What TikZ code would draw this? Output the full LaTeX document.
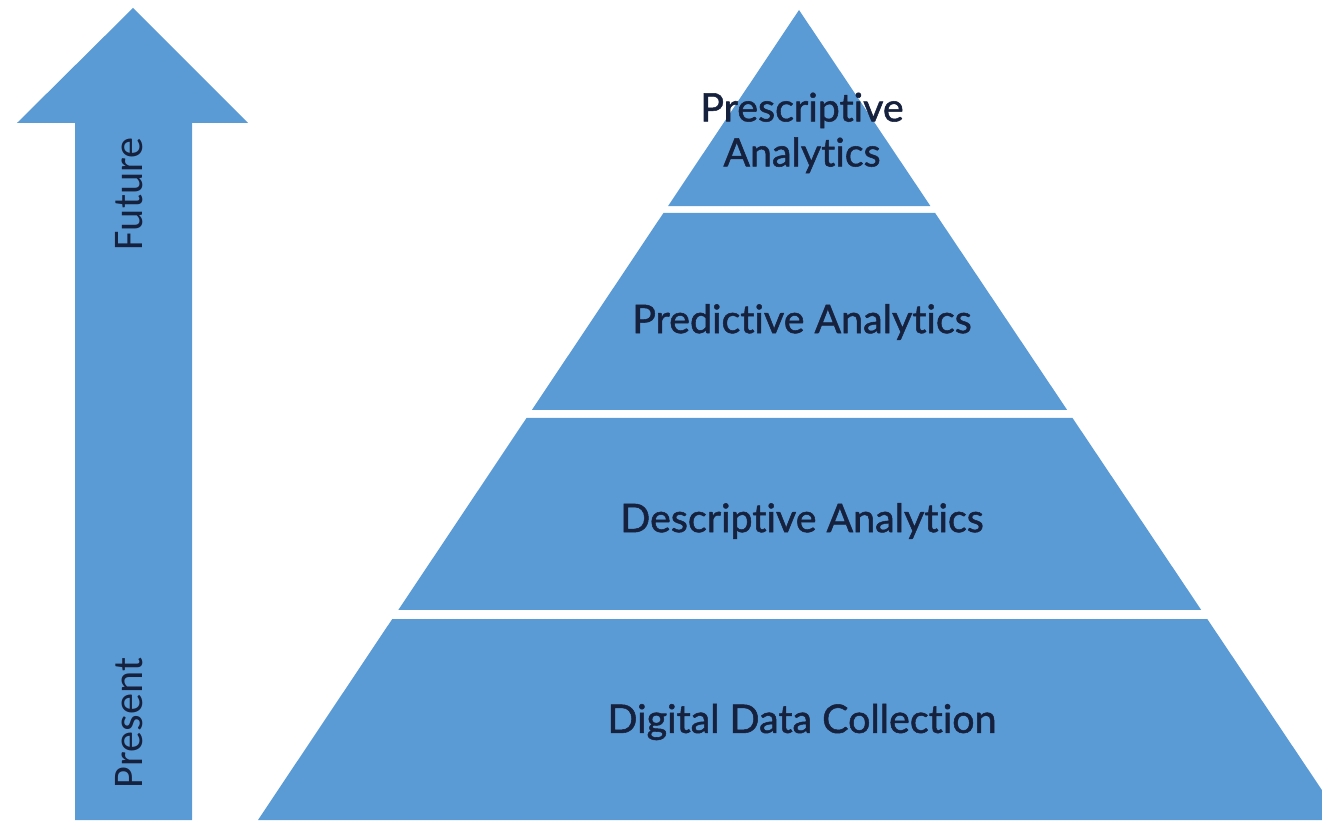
\documentclass[tikz,border=0pt]{standalone}
\usepackage{fontspec}
\setmainfont{Lato}[Ligatures=NoCommon, BoldFont=Lato, BoldFeatures={FakeBold=1.3}]
\newfontfamily\arrowfont{Carlito}
\usetikzlibrary{calc}
\definecolor{bandblue}{HTML}{5B9BD5}
\definecolor{labelnavy}{HTML}{16213E}

\begin{document}
\begin{tikzpicture}[x=0.01cm, y=-0.01cm,
    band/.style={fill=bandblue},
    level/.style={text=labelnavy, align=center, font=\bfseries\fontsize{11.2}{12.8}\selectfont},
    timelabel/.style={text=labelnavy, rotate=90, font=\arrowfont\fontsize{12}{14}\selectfont}]
        \useasboundingbox (0, 0) rectangle (1322, 822);
        \clip (0, 0) rectangle (1322, 822);
        % arrow on the left
        \fill[band] (133, 8) -- (248, 123) -- (192, 123) -- (192, 820)
          -- (75, 820) -- (75, 123) -- (17, 123) -- cycle;
        \node[timelabel] (future) at (129, 194) {Future};
        \node[timelabel] (present) at (129, 723) {Present};
        % pyramid, its right corner runs off the page
        \coordinate (apex) at (799, 10);
        \coordinate (bl) at (258, 820);
        \coordinate (br) at (1342, 820);
        \foreach \ta/\tb in {0/0.242, 0.2506/0.4938, 0.5037/0.7407, 0.7519/1}
        \fill[band] ($(apex)!\ta!(bl)$) -- ($(apex)!\tb!(bl)$)
          -- ($(apex)!\tb!(br)$) -- ($(apex)!\ta!(br)$) -- cycle;
        \node[level] (prescriptive) at (802, 133) {Prescriptive\\Analytics};
        \node[level] (predictive) at (802, 322) {Predictive Analytics};
        \node[level] (descriptive) at (802, 521) {Descriptive Analytics};
        \node[level] (collection) at (802, 722) {Digital Data Collection};
      \end{tikzpicture}
\end{document}
